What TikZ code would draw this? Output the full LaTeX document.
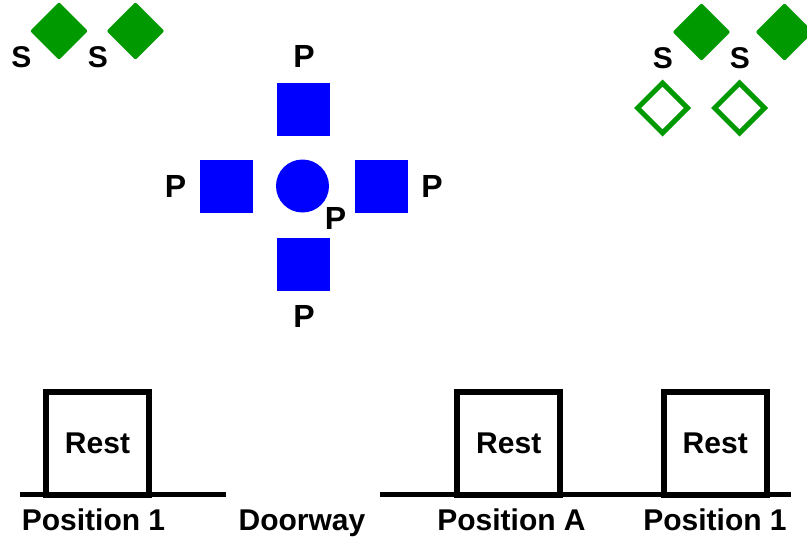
\documentclass[tikz,border=0pt]{standalone}
\usepackage{fontspec}
\setmainfont{Liberation Sans}
\usetikzlibrary{shapes.geometric}
\definecolor{markgreen}{RGB}{0,153,0}
\definecolor{markblue}{RGB}{0,0,255}
\begin{document}
\begin{tikzpicture}[x=1pt,y=-1pt,
  lbl/.style={inner sep=0pt,font=\bfseries\fontsize{30}{30}\selectfont},
  plbl/.style={inner sep=0pt,font=\bfseries\fontsize{32}{32}\selectfont},
  solidgem/.style={diamond,aspect=1,inner sep=0pt,minimum width=58pt,minimum height=58pt,
    fill=markgreen,rounded corners=2pt},
  hollowgem/.style={diamond,aspect=1,inner sep=0pt,minimum width=52pt,minimum height=52pt,
    draw=markgreen,line width=5pt,fill=white},
  tile/.style={rectangle,inner sep=0pt,minimum size=53pt,fill=markblue},
  disc/.style={circle,inner sep=0pt,minimum size=53pt,fill=markblue},
  restbox/.style={rectangle,draw=black,line width=6pt,minimum width=103pt,minimum height=103pt,
    inner sep=0pt,font=\bfseries\fontsize{30}{30}\selectfont},
  ground/.style={line width=5.5pt,draw=black}]
\useasboundingbox (0,0) rectangle (807,541);

% green markers, top left
\node[solidgem] (gl1) at (59,31) {};
\node[solidgem] (gl2) at (135.5,31) {};
\node[lbl] (sl1) at (21.5,57) {S};
\node[lbl] (sl2) at (98,57) {S};

% green markers, top right
\node[solidgem] (gr1) at (701.5,32) {};
\node[solidgem] (gr2) at (784.5,32) {};
\node[lbl] (sr1) at (663,58) {S};
\node[lbl] (sr2) at (740,58) {S};
\node[hollowgem] (hr1) at (662.5,108) {};
\node[hollowgem] (hr2) at (739.5,108) {};

% blue cross of tiles
\node[tile] (pt) at (303.5,109.5) {};
\node[tile] (pl) at (226.5,186.5) {};
\node[tile] (pr) at (381,186.5) {};
\node[tile] (pb) at (303.5,264) {};
\node[disc] (pc) at (302.5,186) {};
\node[plbl] (lt) at (304,56) {P};
\node[plbl] (ll) at (175.5,186) {P};
\node[plbl] (lr) at (432,186) {P};
\node[plbl] (lc) at (335.5,218) {P};
\node[plbl] (lb) at (304,316) {P};

% ground lines
\coordinate (g1a) at (20,494.5);
\coordinate (g1b) at (226,494.5);
\coordinate (g2a) at (380,494.5);
\coordinate (g2b) at (790.5,494.5);
\draw[ground] (g1a) -- (g1b);
\draw[ground] (g2a) -- (g2b);

% rest boxes standing on the ground
\node[restbox] (r1) at (97.5,443) {Rest};
\node[restbox] (r2) at (508.75,443) {Rest};
\node[restbox] (r3) at (715.25,443) {Rest};

% position captions
\node[lbl,anchor=base] (c1) at (93.5,530) {Position 1};
\node[lbl,anchor=base] (c2) at (302,530) {Doorway};
\node[lbl,anchor=base] (c3) at (511.5,530) {Position A};
\node[lbl,anchor=base] (c4) at (715,530) {Position 1};
\end{tikzpicture}
\end{document}
